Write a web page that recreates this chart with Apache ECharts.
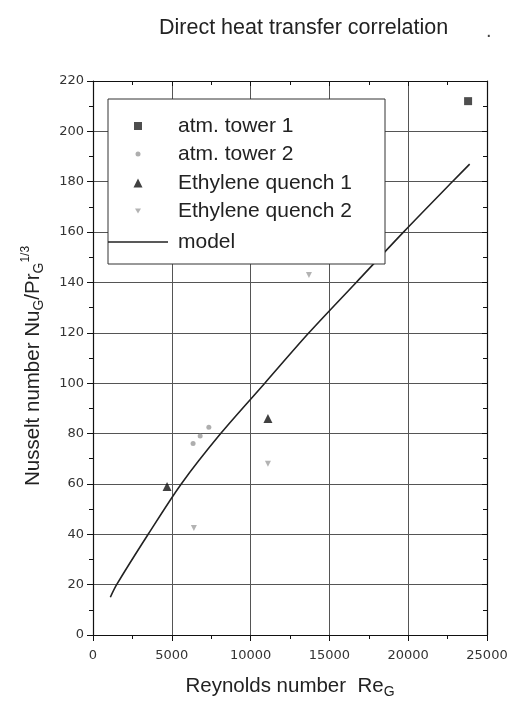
<!DOCTYPE html>
<html><head><meta charset="utf-8">
<script src="https://cdn.jsdelivr.net/npm/echarts@6/dist/echarts.min.js"></script>
<style>html,body{margin:0;padding:0;background:#fff}#c{width:516px;height:704px}</style>
</head><body><div id="c"></div>
<script>
const titleText = 'Direct heat transfer correlation';
const seriesNames = ['atm. tower 1', 'atm. tower 2', 'Ethylene quench 1', 'Ethylene quench 2', 'model'];
const atmTower1 = [[23800, 212]];
const atmTower2 = [[6350, 76], [6800, 79], [7350, 82.5]];
const ethyleneQuench1 = [[4700, 59], [11100, 86]];
const ethyleneQuench2 = [[6400, 42.5], [11100, 68], [13700, 143]];
const model = [[1100, 15], [1500, 20], [3500, 40], [5600, 60], [8100, 80], [10900, 100], [13700, 120], [16700, 140], [19700, 160], [22800, 180], [23900, 187]];
const xMin = 0, xMax = 25000, xStep = 5000;
const yMin = 0, yMax = 220, yStep = 20;

const FONT = '"Liberation Sans", Arial, Helvetica, sans-serif';
const TICKFONT = '"DejaVu Sans", sans-serif';
const chart = echarts.init(document.getElementById('c'), null, {renderer: 'canvas'});

const axisLineStyle = {color: '#111', width: 1.2};
const plain = v => String(v);
const downTriangle = 'path://M0,0L10,0L5,8.66Z';
const option = {
  backgroundColor: '#fff',
  animation: false,
  title: [
    {text: titleText, left: 154, top: 12, textStyle: {fontSize: 21.5, fontWeight: 'normal', fontFamily: FONT, color: '#222'}},
    {text: '.', left: 481, top: 16, textStyle: {fontSize: 20, fontWeight: 'normal', fontFamily: FONT, color: '#444'}}
  ],
  grid: {left: 93, right: 29, top: 81, bottom: 65, containLabel: false},
  xAxis: [
    {type: 'value', min: xMin, max: xMax, interval: xStep, position: 'bottom',
      axisLine: {show: true, onZero: false, lineStyle: axisLineStyle},
      axisTick: {show: true, inside: false, length: 6, lineStyle: {color: '#111'}},
      minorTick: {show: true, splitNumber: 2, length: 4, lineStyle: {color: '#111'}},
      splitLine: {show: true, lineStyle: {color: '#555', width: 1}},
      axisLabel: {margin: 14, fontSize: 13, fontFamily: TICKFONT, color: '#333', formatter: plain},
      name: 'Reynolds number  Re{s|G}', nameLocation: 'middle', nameGap: 38,
      nameTextStyle: {fontSize: 20.5, fontFamily: FONT, color: '#222',
        rich: {s: {fontSize: 14, fontFamily: FONT, color: '#222', padding: [12, 0, 0, 0]}}}},
    {type: 'value', min: xMin, max: xMax, interval: xStep, position: 'top',
      axisLine: {show: true, onZero: false, lineStyle: axisLineStyle},
      axisTick: {show: true, inside: true, length: 5, lineStyle: {color: '#111'}},
      minorTick: {show: true, splitNumber: 2, length: 4, lineStyle: {color: '#111'}},
      axisLabel: {show: false}, splitLine: {show: false}}
  ],
  yAxis: [
    {type: 'value', min: yMin, max: yMax, interval: yStep, position: 'left',
      axisLine: {show: true, onZero: false, lineStyle: axisLineStyle},
      axisTick: {show: true, inside: false, length: 6, lineStyle: {color: '#111'}},
      minorTick: {show: true, splitNumber: 2, length: 4, lineStyle: {color: '#111'}},
      splitLine: {show: true, lineStyle: {color: '#555', width: 1}},
      axisLabel: {margin: 9, fontSize: 13, fontFamily: TICKFONT, color: '#333', formatter: plain},
      name: 'Nusselt number Nu{s|G}/Pr{s|G}{p|1/3}', nameLocation: 'middle', nameGap: 47,
      nameTextStyle: {fontSize: 20.5, fontFamily: FONT, color: '#222', padding: [0, 16, 0, 0],
        rich: {s: {fontSize: 14, fontFamily: FONT, color: '#222', padding: [12, 0, 0, 0]},
               p: {fontSize: 12, fontFamily: FONT, color: '#222', padding: [0, 0, 14, 0]}}}},
    {type: 'value', min: yMin, max: yMax, interval: yStep, position: 'right',
      axisLine: {show: true, onZero: false, lineStyle: axisLineStyle},
      axisTick: {show: true, inside: true, length: 5, lineStyle: {color: '#111'}},
      minorTick: {show: true, splitNumber: 2, length: 4, lineStyle: {color: '#111'}},
      axisLabel: {show: false}, splitLine: {show: false}}
  ],
  legend: seriesNames.map((n, i) => {
    const sz = [8, 5, 9, 6, 60][i];
    const h = [8, 5, 9, 6, 1.6][i];
    const left = i === 4 ? 108 : 138 - sz / 2;
    let item = n;
    if (i === 4) item = {name: n, icon: 'rect', itemStyle: {color: '#222'}};
    if (i === 3) item = {name: n, icon: downTriangle, itemStyle: {color: '#a0a0a0'}};
    return {
      data: [item],
      left: left, top: [114, 142, 171, 199, 230][i], orient: 'vertical',
      itemWidth: sz, itemHeight: h, padding: 0, itemGap: 0, z: 8,
      symbolKeepAspect: i !== 4,
      selectedMode: false,
      textStyle: {fontSize: 21, fontFamily: FONT, color: '#222', lineHeight: 24,
        padding: [0, 0, 0, 178 - (left + sz + 5)]}
    };
  }),
  graphic: [
    {type: 'rect', z: 7, shape: {x: 108, y: 99, width: 277, height: 165},
      style: {fill: '#fff', stroke: '#333', lineWidth: 1}}
  ],
  series: [
    {name: seriesNames[0], type: 'scatter', data: atmTower1, symbol: 'rect', symbolSize: 8,
      itemStyle: {color: '#222'}},
    {name: seriesNames[1], type: 'scatter', data: atmTower2, symbol: 'circle', symbolSize: 5,
      itemStyle: {color: '#9a9a9a'}},
    {name: seriesNames[2], type: 'scatter', data: ethyleneQuench1, symbol: 'triangle', symbolSize: 9,
      itemStyle: {color: '#111'}},
    {name: seriesNames[3], type: 'scatter', data: ethyleneQuench2, symbol: downTriangle, symbolSize: 6,
      itemStyle: {color: '#a0a0a0'}},
    {name: seriesNames[4], type: 'line', data: model, showSymbol: false, symbol: 'none', smooth: 0.3,
      lineStyle: {color: '#222', width: 1.6}, itemStyle: {color: '#222'}}
  ]
};
chart.setOption(option);
</script>
</body></html>
